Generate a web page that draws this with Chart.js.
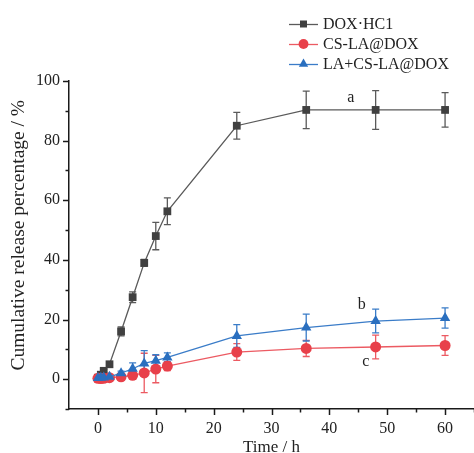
<!DOCTYPE html>
<html>
<head>
<meta charset="utf-8">
<script src="https://cdn.jsdelivr.net/npm/chart.js@4/dist/chart.umd.min.js"></script>
<style>
html,body{margin:0;padding:0;background:#fff;}
#wrap{width:474px;height:453px;position:relative;}
</style>
</head>
<body>
<div id="wrap"><canvas id="c" width="474" height="453"></canvas></div>
<script>
// ---- data ----
const times = [0, 0.5, 1, 2, 4, 6, 8, 10, 12, 24, 36, 48, 60];
const seriesNames = ['DOX\u00b7HC1', 'CS-LA@DOX', 'LA+CS-LA@DOX'];
const doxHCl = [0.5, 1.5, 2.8, 5, 16, 27.5, 39, 48, 56.3, 85, 90.3, 90.3, 90.3];
const doxHClErr = [0.3, 0.4, 0.5, 0.6, 1.5, 1.8, 1.2, 4.6, 4.5, 4.5, 6.3, 6.5, 5.8];
const csLA = [0.3, 0.2, 0.3, 0.5, 0.8, 1.3, 2.1, 3.4, 4.4, 9.1, 10.3, 10.8, 11.3];
const csLAErr = [0.3, 0.3, 0.3, 0.3, 0.5, 1.0, 6.6, 4.6, 1.5, 2.8, 2.7, 4.0, 3.3];
const laCsLA = [0.4, 0.5, 0.6, 0.8, 2.0, 3.5, 5.3, 6.2, 7.3, 14.5, 17.3, 19.5, 20.5];
const laCsLAErr = [0.3, 0.3, 0.3, 0.3, 0.7, 2.0, 4.3, 2.0, 1.5, 3.8, 4.5, 4.0, 3.4];
const noteLabels = ['a', 'b', 'c'];
const noteX = [43.7, 45.6, 46.3];
const noteY = [94.4, 25, 5.8];
const yTickLabels = [0, 20, 40, 60, 80, 100];
const xTickLabels = [0, 10, 20, 30, 40, 50, 60];

const SERIF = '"Liberation Serif", "DejaVu Serif", serif';
const colors = ['#404040', '#e8404a', '#2a6fbf'];
const lineColors = ['#5a5a5a', '#ec5a62', '#3a7cc8'];
const styles = ['rect', 'circle', 'triangle'];
const radii = [5.5, 5.5, 6];
const vals = [doxHCl, csLA, laCsLA];
const errs = [doxHClErr, csLAErr, laCsLAErr];

const datasets = vals.map((v, i) => ({
  label: seriesNames[i],
  data: times.map((t, j) => ({x: t, y: v[j]})),
  errs: errs[i],
  borderColor: lineColors[i],
  backgroundColor: colors[i],
  pointBackgroundColor: colors[i],
  pointBorderColor: colors[i],
  pointStyle: styles[i],
  pointRadius: radii[i],
  pointBorderWidth: 0,
  borderWidth: 1.3,
  tension: 0,
  order: [2, 1, 0][i]
}));

// stretch the plot area to the right edge of the canvas, as in the reference
const stretchRight = {
  id: 'stretchRight',
  afterLayout(chart) {
    const xs = chart.scales.x;
    const R = chart.width;
    chart.chartArea.right = R;
    chart.chartArea.width = R - chart.chartArea.left;
    xs.right = R;
    xs.width = R - xs.left;
    xs.configure();
  }
};

const errorBars = {
  id: 'errorBars',
  beforeDatasetsDraw(chart) {
    const ctx = chart.ctx, xs = chart.scales.x, ys = chart.scales.y;
    chart.data.datasets.forEach((ds) => {
      ctx.save();
      ctx.strokeStyle = ds.borderColor;
      ctx.lineWidth = 1.3;
      ds.data.forEach((p, j) => {
        const e = ds.errs[j];
        const px = xs.getPixelForValue(p.x);
        const top = ys.getPixelForValue(p.y + e);
        const bot = ys.getPixelForValue(p.y - e);
        ctx.beginPath();
        ctx.moveTo(px, top); ctx.lineTo(px, bot);
        ctx.moveTo(px - 3.5, top); ctx.lineTo(px + 3.5, top);
        ctx.moveTo(px - 3.5, bot); ctx.lineTo(px + 3.5, bot);
        ctx.stroke();
      });
      ctx.restore();
    });
  }
};

const axisTicks = {
  id: 'axisTicks',
  afterDraw(chart) {
    const ctx = chart.ctx, xs = chart.scales.x, ys = chart.scales.y;
    const ca = chart.chartArea;
    ctx.save();
    ctx.strokeStyle = '#1a1a1a';
    ctx.lineWidth = 1.5;
    ys.ticks.forEach(t => {
      const py = Math.round(ys.getPixelForValue(t.value)) + 0.5;
      const major = yTickLabels.includes(t.value);
      ctx.beginPath();
      ctx.moveTo(ca.left, py); ctx.lineTo(ca.left - (major ? 6 : 3.5), py);
      ctx.stroke();
    });
    xs.ticks.forEach(t => {
      if (t.value < 0) return;
      const px = Math.round(xs.getPixelForValue(t.value)) + 0.5;
      const major = xTickLabels.includes(t.value);
      ctx.beginPath();
      ctx.moveTo(px, ca.bottom); ctx.lineTo(px, ca.bottom + (major ? 6 : 3.5));
      ctx.stroke();
    });
    // annotations
    ctx.fillStyle = '#222';
    ctx.font = '16px ' + SERIF;
    ctx.textAlign = 'center';
    ctx.textBaseline = 'middle';
    noteLabels.forEach((s, i) => {
      ctx.fillText(s, xs.getPixelForValue(noteX[i]), ys.getPixelForValue(noteY[i]));
    });
    // legend
    const x0 = 289, x1 = 318, tx = 323, rows = [24, 44, 64];
    chart.data.datasets.forEach((ds, i) => {
      const y = rows[i];
      ctx.strokeStyle = ds.borderColor;
      ctx.lineWidth = 1.3;
      ctx.beginPath(); ctx.moveTo(x0, y + 0.5); ctx.lineTo(x1, y + 0.5); ctx.stroke();
      ctx.fillStyle = ds.backgroundColor;
      Chart.helpers.drawPoint(ctx, {pointStyle: ds.pointStyle, radius: ds.pointRadius * 0.9, rotation: 0, borderWidth: 0}, (x0 + x1) / 2, y);
      ctx.fillStyle = '#222';
      ctx.textAlign = 'left';
      ctx.textBaseline = 'middle';
      ctx.font = '16px ' + SERIF;
      ctx.fillText(ds.label, tx, y + 1);
    });
    ctx.restore();
  }
};

new Chart(document.getElementById('c'), {
  type: 'line',
  data: {datasets},
  options: {
    responsive: false,
    animation: false,
    layout: {padding: {top: 81, right: 0, left: 0, bottom: 0}},
    plugins: {legend: {display: false}, tooltip: {enabled: false}},
    scales: {
      x: {
        type: 'linear',
        min: -5, max: 65,
        afterFit(s) { s.height = 44; s.paddingRight = 0; s.paddingLeft = 0; },
        grid: {display: false, drawTicks: false},
        border: {display: true, color: '#1a1a1a', width: 1.5},
        ticks: {
          stepSize: 5, padding: 10, color: '#222', autoSkip: false, maxRotation: 0,
          font: {family: SERIF, size: 16},
          callback: v => xTickLabels.includes(v) ? String(v) : ''
        },
        title: {display: true, text: 'Time / h', color: '#222', font: {family: SERIF, size: 17}, padding: {top: 0, bottom: -5}}
      },
      y: {
        type: 'linear',
        min: -10, max: 100,
        afterFit(s) { s.width = 69; s.paddingTop = 0; s.paddingBottom = 0; },
        grid: {display: false, drawTicks: false},
        border: {display: true, color: '#1a1a1a', width: 1.5},
        ticks: {
          stepSize: 10, padding: 9, color: '#222', autoSkip: false,
          font: {family: SERIF, size: 16},
          callback: v => yTickLabels.includes(v) ? String(v) : ''
        },
        title: {display: true, text: '    Cumulative release percentage / %', color: '#222', font: {family: SERIF, size: 19.5}, padding: {top: 7, bottom: 0}}
      }
    }
  },
  plugins: [stretchRight, errorBars, axisTicks]
});
</script>
</body>
</html>
